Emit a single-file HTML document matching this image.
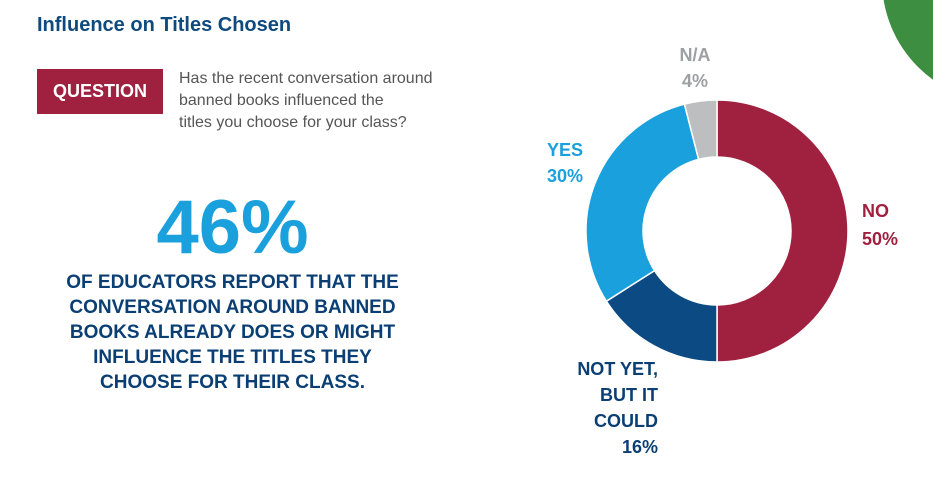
<!DOCTYPE html>
<html><head><meta charset="utf-8"><style>
body{margin:0;width:933px;height:495px;background:#fff;overflow:hidden;position:relative;font-family:"Liberation Sans",sans-serif}
.a{position:absolute}
</style></head><body>
<svg class="a" style="left:0;top:0" width="933" height="495">
<circle cx="1005" cy="-20" r="123" fill="#3e8e41"/>
<g id="donut"></g>
</svg>
<div class="a" style="left:37px;top:14px;font-size:20px;font-weight:bold;color:#0f4a7f">Influence on Titles Chosen</div>
<div class="a" style="left:37px;top:69px;width:126px;height:45px;background:#a0213f;color:#fff;font-weight:bold;font-size:18px;line-height:45px;text-align:center">QUESTION</div>
<div class="a" style="left:179px;top:68px;font-size:16px;line-height:22px;color:#555">Has the recent conversation around<br>banned books influenced the<br>titles you choose for your class?</div>
<div class="a" style="left:60px;width:345px;top:188px;text-align:center;font-size:76px;font-weight:bold;color:#1aa0dc;line-height:80px">46%</div>
<div class="a" style="left:50px;width:365px;top:270px;text-align:center;font-size:19px;font-weight:bold;color:#0b3f74;line-height:25px">OF EDUCATORS REPORT THAT THE CONVERSATION AROUND BANNED BOOKS ALREADY DOES OR MIGHT INFLUENCE THE TITLES THEY CHOOSE FOR THEIR CLASS.</div>
<div class="a" style="left:660px;top:42px;width:70px;text-align:center;font-size:18px;font-weight:bold;color:#9d9fa2;line-height:26px">N/A<br>4%</div>
<div class="a" style="left:540px;top:137px;width:50px;text-align:center;font-size:18px;font-weight:bold;color:#1aa0dc;line-height:26px">YES<br>30%</div>
<div class="a" style="left:862px;top:197px;font-size:18px;font-weight:bold;color:#a0213f;line-height:28px">NO<br>50%</div>
<div class="a" style="left:540px;top:356px;width:118px;text-align:right;font-size:18px;font-weight:bold;color:#0b3f74;line-height:26px">NOT YET,<br>BUT IT<br>COULD<br>16%</div>
<script>
const categories=["No","Not yet, but it could","Yes","N/A"];
const values=[50,16,30,4];
const colors=["#a0213f","#0b4a82","#1aa0dc","#bcbec0"];
const cx=717,cy=231,R=131,r=74;
const g=document.getElementById('donut');
const tot=values.reduce((a,b)=>a+b,0);
let acc=0;
function pt(rad,f){const a=f*2*Math.PI-Math.PI/2;return [cx+rad*Math.cos(a),cy+rad*Math.sin(a)];}
values.forEach((v,i)=>{
 const f0=acc/tot,f1=(acc+v)/tot;acc+=v;
 const lg=(f1-f0)>0.5?1:0;
 const [x0,y0]=pt(R,f0),[x1,y1]=pt(R,f1),[x2,y2]=pt(r,f1),[x3,y3]=pt(r,f0);
 const p=document.createElementNS('http://www.w3.org/2000/svg','path');
 p.setAttribute('d',`M${x0},${y0}A${R},${R} 0 ${lg} 1 ${x1},${y1}L${x2},${y2}A${r},${r} 0 ${lg} 0 ${x3},${y3}Z`);
 p.setAttribute('fill',colors[i]);p.setAttribute('stroke','#fff');p.setAttribute('stroke-width','1.5');
 
 
 g.appendChild(p);
});
</script>
</body></html>
